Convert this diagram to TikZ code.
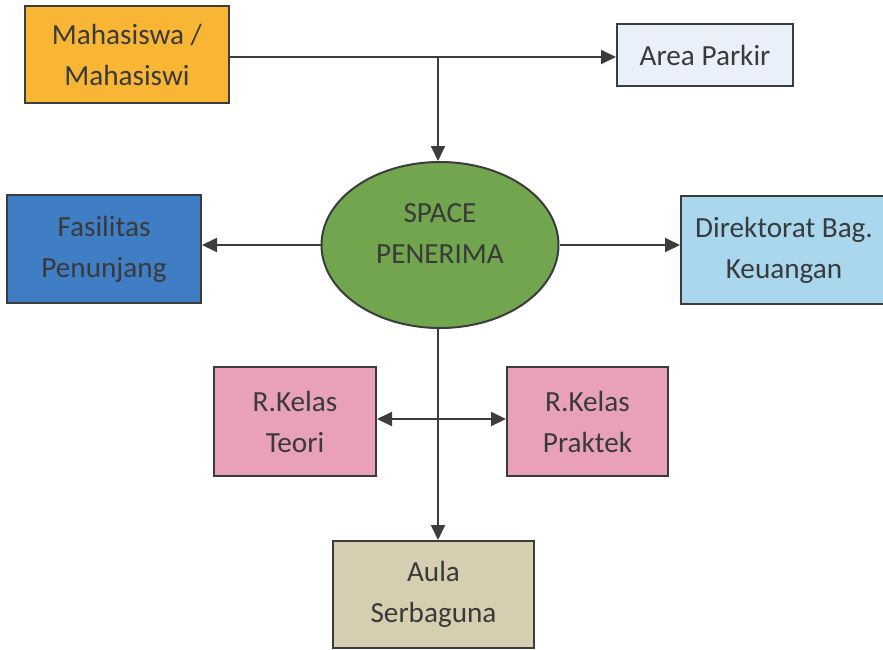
\documentclass[tikz,border=0pt]{standalone}
\usepackage{fontspec}
\setmainfont{Carlito}
\usetikzlibrary{arrows.meta,shapes.geometric}
\definecolor{edge}{HTML}{3C3C3C}
\definecolor{ink}{HTML}{3A3A3A}
\definecolor{cOrange}{HTML}{F8B634}
\definecolor{cIce}{HTML}{E9F0FA}
\definecolor{cGreen}{HTML}{72A64E}
\definecolor{cBlue}{HTML}{3F7EC4}
\definecolor{cSky}{HTML}{A8D7EE}
\definecolor{cPink}{HTML}{E9A1B7}
\definecolor{cTan}{HTML}{D7CEB1}
\tikzset{
  txt/.style={align=center, text=ink, font=\fontsize{14.6}{20.5}\selectfont},
  box/.style={draw=edge, line width=1pt, rectangle, inner sep=0pt, txt},
  oval/.style={draw=edge, line width=1pt, ellipse, inner sep=0pt},
  link/.style={draw=edge, line width=1pt, -{Triangle[length=7.5pt,width=7pt]}},
  link2/.style={draw=edge, line width=1pt,
    {Triangle[length=7.5pt,width=7pt]}-{Triangle[length=7.5pt,width=7pt]}}
}
\begin{document}
\begin{tikzpicture}[x=0.5pt,y=-0.5pt]
\useasboundingbox (0,0) rectangle (883,649);
% boxes
\node[box, fill=cOrange, minimum width=102pt, minimum height=48.5pt]
  (mah) at (127,54.5) {Mahasiswa /\\Mahasiswi};
\node[box, fill=cIce, minimum width=88pt, minimum height=31pt]
  (park) at (705,55) {Area Parkir};
\node[oval, fill=cGreen, minimum width=118.5pt, minimum height=83pt]
  (ell) at (440,245) {};
\node[txt] (elltext) at ([yshift=5.5pt]ell.center) {SPACE\\PENERIMA};
\node[box, fill=cBlue, minimum width=97pt, minimum height=54pt]
  (fas) at (104,249) {Fasilitas\\Penunjang};
\node[box, fill=cSky, minimum width=103pt, minimum height=54pt]
  (dir) at (784,250) {Direktorat Bag.\\Keuangan};
\node[box, fill=cPink, minimum width=81pt, minimum height=54.5pt]
  (teori) at (295,421.5) {R.Kelas\\Teori};
\node[box, fill=cPink, minimum width=80.5pt, minimum height=54.5pt]
  (prak) at (587.5,421.5) {R.Kelas\\Praktek};
\node[box, fill=cTan, minimum width=100.5pt, minimum height=53.5pt]
  (aula) at (433.5,594.5) {Aula\\Serbaguna};
% junction on the top line
\coordinate (j) at (438,57);
% connectors
\draw[link] (mah.east |- j) -- (park.west |- j);
\draw[link] (j) -- (j |- ell.north);
\draw[link] (ell.west) -- (fas.east |- ell.west);
\draw[link] (ell.east) -- (dir.west |- ell.east);
\draw[link] (j |- ell.south) -- (j |- aula.north);
\draw[link2] (teori.east |- 0,419) -- (prak.west |- 0,419);
\end{tikzpicture}
\end{document}
